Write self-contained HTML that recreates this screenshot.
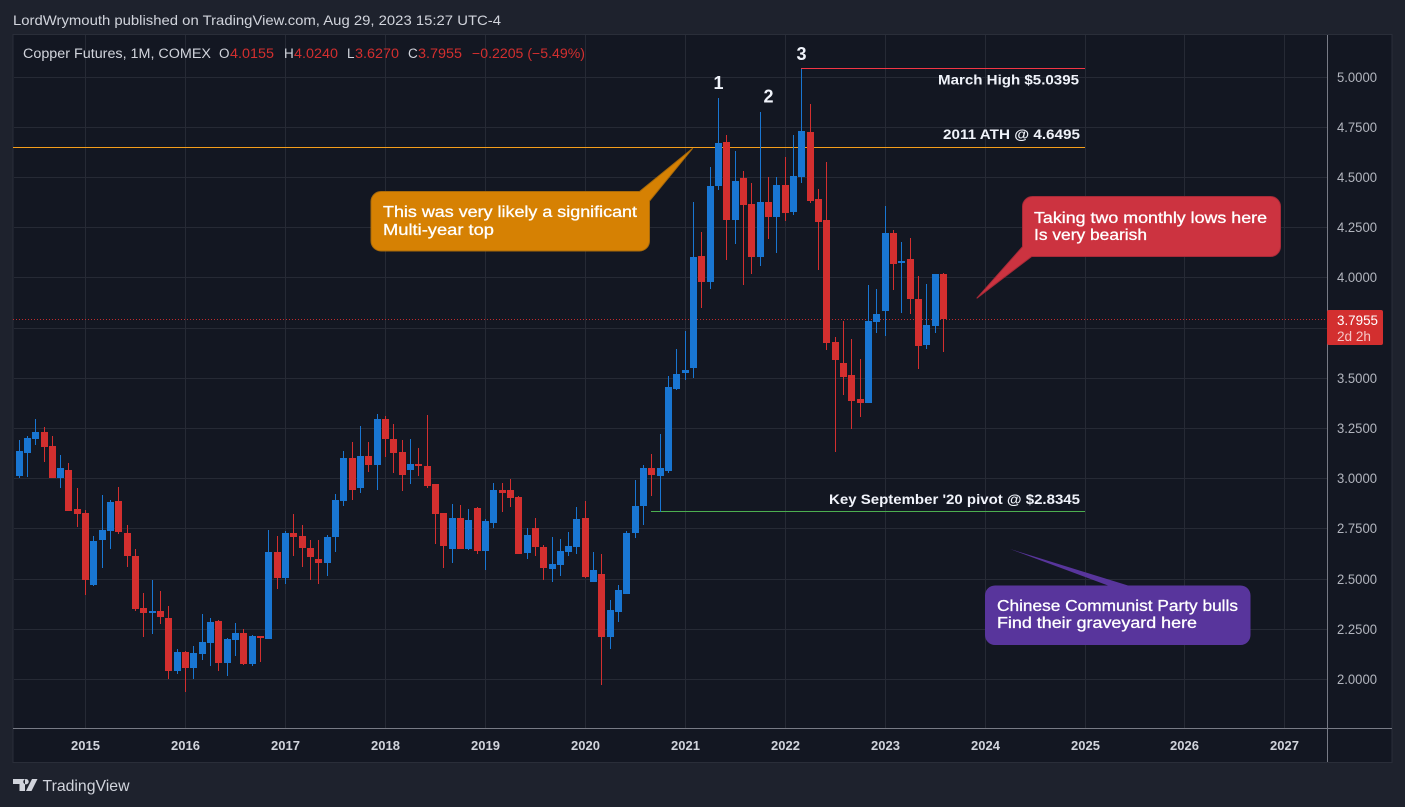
<!DOCTYPE html>
<html lang="en">
<head>
<meta charset="utf-8">
<title>Copper Futures, 1M, COMEX</title>
<style>
html,body{margin:0;padding:0;background:#1e222d;width:1405px;height:807px;overflow:hidden}
svg{display:block}
text{font-family:"Liberation Sans",sans-serif}
</style>
</head>
<body>
<svg id="chart" xmlns="http://www.w3.org/2000/svg" width="1405" height="807" viewBox="0 0 1405 807">
  <rect x="0" y="0" width="1405" height="807" fill="#1e222d"/>
  <text x="13" y="25" font-size="14" fill="#d1d4dc" textLength="488" lengthAdjust="spacingAndGlyphs">LordWrymouth published on TradingView.com, Aug 29, 2023 15:27 UTC-4</text>
  <rect x="13" y="34.5" width="1379" height="728" fill="#131722" stroke="#2a2e39" stroke-width="1"/>
  <g id="grid"></g>

  <g shape-rendering="crispEdges">
    <rect x="1327" y="35" width="1" height="727" fill="#787b86"/>
    <rect x="13" y="728" width="1379" height="1" fill="#787b86"/>
  </g>
  <g id="xaxis"></g>
  <g id="yaxis"></g>

  <g font-size="13.5">
    <text x="23" y="58" fill="#d1d4dc" textLength="188" lengthAdjust="spacingAndGlyphs">Copper Futures, 1M, COMEX</text>
    <text x="219" y="58" fill="#d1d4dc">O</text>
    <text x="230" y="58" fill="#d32f2f" textLength="44" lengthAdjust="spacingAndGlyphs">4.0155</text>
    <text x="284" y="58" fill="#d1d4dc">H</text>
    <text x="294" y="58" fill="#d32f2f" textLength="44" lengthAdjust="spacingAndGlyphs">4.0240</text>
    <text x="347" y="58" fill="#d1d4dc">L</text>
    <text x="355" y="58" fill="#d32f2f" textLength="44" lengthAdjust="spacingAndGlyphs">3.6270</text>
    <text x="408" y="58" fill="#d1d4dc">C</text>
    <text x="418" y="58" fill="#d32f2f" textLength="44" lengthAdjust="spacingAndGlyphs">3.7955</text>
    <text x="472" y="58" fill="#d32f2f" textLength="113" lengthAdjust="spacingAndGlyphs">−0.2205 (−5.49%)</text>
  </g>

  <g id="levels"></g>
  <g id="candles"></g>

  <g>
    <path d="M381 191.5H639.5L692.7 148.3L649.5 201V241a10 10 0 0 1-10 10H381a10 10 0 0 1-10-10V201.5a10 10 0 0 1 10-10Z" fill="#d68103" stroke="#a86a0a" stroke-width="1"/>
    <text x="383" y="217" font-size="16" fill="#fff" stroke="#fff" stroke-width=".3" textLength="254" lengthAdjust="spacingAndGlyphs">This was very likely a significant</text>
    <text x="383" y="235" font-size="16" fill="#fff" stroke="#fff" stroke-width=".3" textLength="111" lengthAdjust="spacingAndGlyphs">Multi-year top</text>
  </g>
  <g>
    <path d="M1032.5 196.5H1270.5a10 10 0 0 1 10 10V246.5a10 10 0 0 1-10 10H1031.7L976.7 298.3L1022.5 246.7V206.5a10 10 0 0 1 10-10Z" fill="#cc3340" stroke="#a82a38" stroke-width="1"/>
    <text x="1034" y="223" font-size="16" fill="#fff" stroke="#fff" stroke-width=".3" textLength="233" lengthAdjust="spacingAndGlyphs">Taking two monthly lows here</text>
    <text x="1034" y="240" font-size="16" fill="#fff" stroke="#fff" stroke-width=".3" textLength="113" lengthAdjust="spacingAndGlyphs">Is very bearish</text>
  </g>
  <g>
    <path d="M995 585.5H1108L1010 549L1128 585.5H1240.5a10 10 0 0 1 10 10V635a10 10 0 0 1-10 10H995a10 10 0 0 1-10-10V595.5a10 10 0 0 1 10-10Z" fill="#58359c"/>
    <text x="997" y="611" font-size="16" fill="#fff" stroke="#fff" stroke-width=".3" textLength="241" lengthAdjust="spacingAndGlyphs">Chinese Communist Party bulls</text>
    <text x="997" y="628" font-size="16" fill="#fff" stroke="#fff" stroke-width=".3" textLength="200" lengthAdjust="spacingAndGlyphs">Find their graveyard here</text>
  </g>

  <g font-weight="700" fill="#f0f3fa">
    <text x="938" y="84.5" font-size="14" textLength="141" lengthAdjust="spacingAndGlyphs">March High $5.0395</text>
    <text x="943" y="139" font-size="14" textLength="137" lengthAdjust="spacingAndGlyphs">2011 ATH @ 4.6495</text>
    <text x="829" y="504" font-size="14" textLength="251" lengthAdjust="spacingAndGlyphs">Key September '20 pivot @ $2.8345</text>
    <text x="718.5" y="89" font-size="18" text-anchor="middle">1</text>
    <text x="768.5" y="102.5" font-size="18" text-anchor="middle">2</text>
    <text x="801.5" y="60" font-size="18" text-anchor="middle">3</text>
  </g>

  <g>
    <rect x="1327" y="310" width="56" height="35" rx="2" fill="#d32f2f"/>
    <text x="1337" y="325" font-size="13.5" fill="#fff" textLength="41" lengthAdjust="spacingAndGlyphs">3.7955</text>
    <text x="1337" y="341" font-size="13.5" fill="#f5c6c6" textLength="34" lengthAdjust="spacingAndGlyphs">2d 2h</text>
  </g>

  <g fill="#d1d4dc">
    <path d="M13 779H25V791H19.5V784H13ZM32 779H37.5L31.5 791H26ZM26 779a2.7 2.7 0 1 0 .01 0Z"/>
    <text x="42.5" y="791" font-size="16" textLength="87" lengthAdjust="spacingAndGlyphs">TradingView</text>
  </g>
</svg>
<script>
// Chart data
const firstYear = 2014;
const firstMonth = 4;
const yearLabels = [2015,2016,2017,2018,2019,2020,2021,2022,2023,2024,2025,2026,2027];
const priceTicks = [5.0,4.75,4.5,4.25,4.0,3.5,3.25,3.0,2.75,2.5,2.25,2.0];
const gridPrices = [5.0,4.75,4.5,4.25,4.0,3.75,3.5,3.25,3.0,2.75,2.5,2.25,2.0];
const lastPrice = 3.7955;
const athPrice = 4.6495;
const marchHighPrice = 5.0395;
const pivotPrice = 2.8345;
const opens = [3.012,3.127,3.197,3.232,3.162,3.002,3.042,2.847,2.827,2.468,2.693,2.737,2.887,2.727,2.613,2.353,2.328,2.338,2.303,2.039,2.133,2.054,2.123,2.178,2.288,2.079,2.193,2.228,2.074,2.213,2.198,2.633,2.503,2.727,2.713,2.653,2.598,2.578,2.708,2.887,3.102,2.952,3.112,3.067,3.297,3.197,3.132,3.042,3.072,3.062,2.972,2.827,2.648,2.802,2.648,2.852,2.638,2.777,2.942,2.942,2.907,2.628,2.752,2.658,2.548,2.568,2.633,2.658,2.802,2.483,2.523,2.208,2.333,2.423,2.727,2.862,3.052,3.012,3.037,3.444,3.524,3.549,4.108,3.978,4.458,4.677,4.288,4.497,4.368,4.103,4.378,4.303,4.463,4.328,4.502,4.727,4.393,4.288,3.678,3.574,3.514,3.394,3.374,3.778,3.833,4.223,4.073,4.093,3.893,3.663,3.758,4.0155];
const highs = [3.192,3.212,3.297,3.257,3.212,3.117,3.077,2.952,2.842,2.713,2.917,2.892,2.957,2.767,2.648,2.428,2.493,2.438,2.363,2.148,2.138,2.163,2.323,2.303,2.293,2.203,2.278,2.248,2.218,2.213,2.742,2.713,2.737,2.822,2.767,2.693,2.693,2.718,2.922,3.137,3.182,3.262,3.182,3.322,3.312,3.272,3.192,3.197,3.152,3.317,2.972,2.827,2.872,2.867,2.847,2.857,2.797,2.977,2.977,2.997,2.912,2.752,2.802,2.668,2.708,2.698,2.733,2.857,2.887,2.633,2.623,2.393,2.468,2.737,2.992,3.067,3.122,3.222,3.507,3.644,3.734,4.378,4.228,4.552,4.892,4.712,4.632,4.532,4.473,4.827,4.502,4.502,4.602,4.712,5.0395,4.862,4.443,4.577,3.703,3.783,3.693,3.594,3.963,3.943,4.357,4.237,4.178,4.198,4.008,3.968,4.018,4.024];
const lows = [3.002,3.007,3.167,3.082,3.002,2.952,2.837,2.757,2.418,2.463,2.553,2.648,2.723,2.558,2.338,2.208,2.223,2.273,1.999,2.024,1.934,1.999,2.094,2.064,2.039,2.014,2.113,2.069,2.064,2.084,2.198,2.448,2.473,2.613,2.558,2.493,2.473,2.513,2.633,2.862,2.892,2.927,3.032,2.942,3.107,3.027,2.937,2.972,3.012,2.952,2.673,2.553,2.578,2.648,2.643,2.623,2.543,2.752,2.832,2.857,2.623,2.598,2.613,2.493,2.483,2.513,2.613,2.623,2.503,2.483,1.969,2.148,2.283,2.423,2.703,2.767,2.913,2.833,3.027,3.439,3.489,3.499,3.849,3.943,4.438,4.088,4.168,3.963,4.018,4.058,4.193,4.123,4.283,4.313,4.473,4.373,4.038,3.639,3.129,3.414,3.244,3.304,3.374,3.723,3.708,3.938,3.823,3.818,3.544,3.643,3.723,3.627];
const closes = [3.137,3.202,3.232,3.157,3.002,3.052,2.837,2.822,2.493,2.688,2.742,2.882,2.732,2.613,2.348,2.328,2.338,2.308,2.039,2.133,2.054,2.128,2.183,2.283,2.079,2.198,2.228,2.074,2.213,2.203,2.633,2.503,2.727,2.708,2.653,2.608,2.578,2.708,2.892,3.102,2.942,3.112,3.067,3.297,3.197,3.127,3.017,3.072,3.062,2.962,2.822,2.663,2.802,2.648,2.792,2.638,2.787,2.942,2.927,2.902,2.623,2.718,2.658,2.553,2.573,2.638,2.663,2.797,2.508,2.543,2.208,2.343,2.443,2.727,2.862,3.052,3.017,3.052,3.452,3.519,3.539,4.103,3.978,4.458,4.672,4.288,4.483,4.363,4.103,4.378,4.303,4.463,4.323,4.507,4.732,4.383,4.278,3.674,3.589,3.504,3.384,3.374,3.783,3.818,4.223,4.068,4.083,3.893,3.658,3.763,4.018,3.7955];

// Axis functions
const xPix = i => Math.floor(19.02 + 8.328 * i);
const yPix = p => Math.floor(77.3 + (5 - p) * 200.69);
const yearIndex = y => (y - firstYear) * 12 - firstMonth;

const NS = 'http://www.w3.org/2000/svg';
function make(tag, parent, attrs) {
  const el = document.createElementNS(NS, tag);
  for (const k in attrs) el.setAttribute(k, attrs[k]);
  parent.appendChild(el);
  return el;
}

const grid = document.getElementById('grid');
const xaxis = document.getElementById('xaxis');
const yaxis = document.getElementById('yaxis');
const levels = document.getElementById('levels');
const candles = document.getElementById('candles');

gridPrices.forEach(p => {
  const line = make('rect', grid, {x: 14, y: yPix(p), width: 1313, height: 1, fill: '#262a35', 'shape-rendering': 'crispEdges'});
  
  
});
yearLabels.forEach(y => {
  const gx = xPix(yearIndex(y));
  const line = make('rect', grid, {x: gx, y: 35, width: 1, height: 693, fill: '#262a35', 'shape-rendering': 'crispEdges'});
  
  
  const t = make('text', xaxis, {x: gx + 0.5, y: 750, 'font-size': 13, 'font-weight': 700, fill: '#d1d4dc', 'text-anchor': 'middle'});
  t.textContent = String(y);
  
  
});
priceTicks.forEach(p => {
  const t = make('text', yaxis, {x: 1337, y: yPix(p) + 5, 'font-size': 13.5, fill: '#b2b5be', textLength: 40, lengthAdjust: 'spacingAndGlyphs'});
  t.textContent = p.toFixed(4);
  
  
});

// Level lines
const lastLine = make('line', levels, {x1: 13, x2: 1327, y1: yPix(lastPrice) + 0.5, y2: yPix(lastPrice) + 0.5, stroke: '#d32f2f', 'stroke-width': 1, 'stroke-dasharray': '1 2', opacity: 0.9});


const athLine = make('rect', levels, {x: 13, y: yPix(athPrice), width: 1072, height: 1, fill: '#f59e1c', 'shape-rendering': 'crispEdges'});


const marchLine = make('rect', levels, {x: 801, y: yPix(marchHighPrice) - 1, width: 284, height: 1, fill: '#f23645', 'shape-rendering': 'crispEdges'});


const pivotLine = make('rect', levels, {x: 651, y: yPix(pivotPrice), width: 434, height: 1, fill: '#4caf50', 'shape-rendering': 'crispEdges'});



// Candles
closes.forEach((c, i) => {
  const o = opens[i];
  const color = c >= o ? '#1976d2' : '#d32f2f';
  const px = xPix(i);
  const g = make('g', candles, {'shape-rendering': 'crispEdges', fill: color});
  
  
  const wickTop = yPix(highs[i]);
  const wickBottom = yPix(lows[i]);
  make('rect', g, {x: px, y: wickTop, width: 1, height: Math.max(1, wickBottom - wickTop)});
  const bodyTop = yPix(Math.max(o, c));
  const bodyBottom = yPix(Math.min(o, c));
  make('rect', g, {x: px - 3, y: bodyTop, width: 7, height: Math.max(2, bodyBottom - bodyTop)});
});
</script>
</body>
</html>
